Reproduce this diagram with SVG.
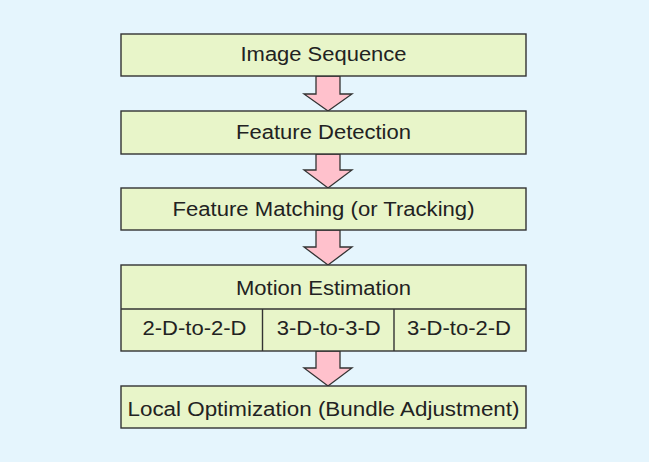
<svg xmlns="http://www.w3.org/2000/svg" width="649" height="462" viewBox="0 0 649 462">
<style>
.box{fill:#E8F5C9;stroke:#333333;stroke-width:1.4}
.div{stroke:#333333;stroke-width:1.4;fill:none}
.arr{fill:#FFC1CC;stroke:#333333;stroke-width:1.3;stroke-linejoin:miter}
text{font-family:"Liberation Sans",Arial,Helvetica,sans-serif;font-size:20px;fill:#222222;text-anchor:middle}
</style>
<rect x="0" y="0" width="649" height="462" fill="#E5F5FD"/>
<g id="connectors">
<polygon class="arr" points="316,76 340,76 340,94 352,94 328,111 304,94 316,94"/>
<polygon class="arr" points="316,154 340,154 340,170 352,170 328,188 304,170 316,170"/>
<polygon class="arr" points="316,230 340,230 340,247 352,247 328,265 304,247 316,247"/>
<polygon class="arr" points="316,351 340,351 340,368 352,368 328,386 304,368 316,368"/>
</g>
<g id="image-sequence">
<rect class="box" x="121" y="34" width="405" height="42"/>
<text x="323.5" y="61" textLength="166" lengthAdjust="spacingAndGlyphs">Image Sequence</text>
</g>
<g id="feature-detection">
<rect class="box" x="121" y="111" width="405" height="43"/>
<text x="323.5" y="139" textLength="175" lengthAdjust="spacingAndGlyphs">Feature Detection</text>
</g>
<g id="feature-matching">
<rect class="box" x="121" y="188" width="405" height="42"/>
<text x="323.5" y="216" textLength="302" lengthAdjust="spacingAndGlyphs">Feature Matching (or Tracking)</text>
</g>
<g id="motion-estimation">
<rect class="box" x="121" y="265" width="405" height="86"/>
<line class="div" x1="121" y1="309" x2="526" y2="309"/>
<line class="div" x1="262.5" y1="309" x2="262.5" y2="351"/>
<line class="div" x1="394" y1="309" x2="394" y2="351"/>
<text x="323.5" y="295" textLength="175" lengthAdjust="spacingAndGlyphs">Motion Estimation</text>
<text x="194.5" y="335" textLength="104" lengthAdjust="spacingAndGlyphs">2-D-to-2-D</text>
<text x="328.7" y="335" textLength="104" lengthAdjust="spacingAndGlyphs">3-D-to-3-D</text>
<text x="459" y="335" textLength="104" lengthAdjust="spacingAndGlyphs">3-D-to-2-D</text>
</g>
<g id="local-optimization">
<rect class="box" x="121" y="386" width="405" height="42"/>
<text x="323.5" y="416" textLength="392" lengthAdjust="spacingAndGlyphs">Local Optimization (Bundle Adjustment)</text>
</g>
</svg>
